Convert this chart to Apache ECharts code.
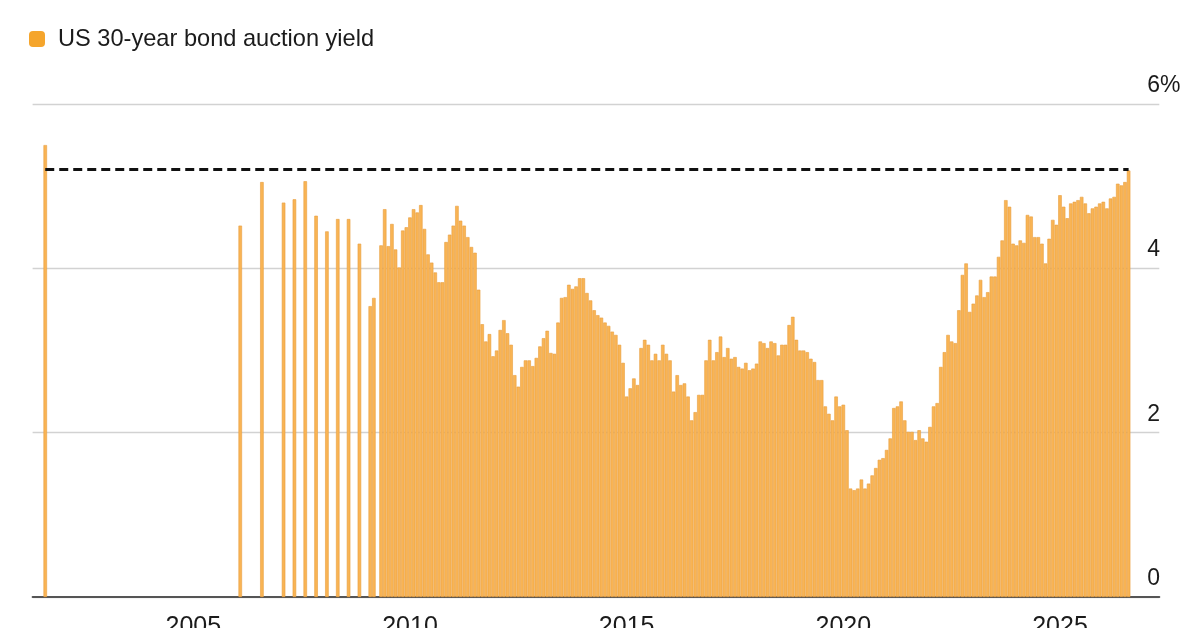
<!DOCTYPE html>
<html lang="en">
<head>
  <meta charset="UTF-8">
  <title>US 30-year bond auction yield</title>
  <script src="https://cdn.jsdelivr.net/npm/echarts@6.0.0/dist/echarts.min.js"></script>
  <style>
    html, body { margin: 0; padding: 0; background: #fff; }
    #chart { width: 1200px; height: 628px; }
  </style>
</head>
<body>
  <div id="chart"></div>

  <script>
    // early, irregular auctions (month -> yield, %)
    const earlyMonths = ['2001-08', '2006-02', '2006-08', '2007-02', '2007-05', '2007-08',
                         '2007-11', '2008-02', '2008-05', '2008-08', '2008-11']
    const earlyYields = [5.50, 4.52, 5.05, 4.80, 4.84, 5.06, 4.64, 4.45, 4.60, 4.60, 4.30]

    // monthly auctions from Feb 2009 (no auction in Apr 2009)
    const monthlyStart = '2009-02'
    const y2009 = [3.54, 3.64, null, 4.28, 4.72, 4.27, 4.54, 4.23, 4.01, 4.46, 4.50]
    const y2010 = [4.62, 4.72, 4.68, 4.77, 4.48, 4.17, 4.07, 3.95, 3.83, 3.83, 4.32, 4.41]
    const y2011 = [4.52, 4.76, 4.58, 4.52, 4.38, 4.26, 4.19, 3.74, 3.32, 3.11, 3.20, 2.93]
    const y2012 = [3.00, 3.25, 3.37, 3.21, 3.07, 2.70, 2.56, 2.80, 2.88, 2.88, 2.81, 2.91]
    const y2013 = [3.05, 3.15, 3.24, 2.97, 2.96, 3.34, 3.64, 3.65, 3.80, 3.75, 3.78, 3.88]
    const y2014 = [3.88, 3.70, 3.61, 3.49, 3.43, 3.40, 3.34, 3.30, 3.23, 3.19, 3.07, 2.85]
    const y2015 = [2.44, 2.54, 2.66, 2.58, 3.03, 3.13, 3.07, 2.88, 2.96, 2.88, 3.07, 2.96]
    const y2016 = [2.88, 2.50, 2.70, 2.58, 2.60, 2.44, 2.15, 2.25, 2.46, 2.46, 2.88, 3.13]
    const y2017 = [2.88, 2.98, 3.17, 2.92, 3.03, 2.90, 2.92, 2.80, 2.78, 2.85, 2.76, 2.78]
    const y2018 = [2.84, 3.11, 3.09, 3.03, 3.11, 3.09, 2.94, 3.07, 3.07, 3.31, 3.41, 3.13]
    const y2019 = [3.00, 3.00, 2.98, 2.90, 2.86, 2.64, 2.64, 2.32, 2.23, 2.15, 2.44, 2.32]
    const y2020 = [2.34, 2.03, 1.32, 1.30, 1.32, 1.43, 1.32, 1.38, 1.48, 1.57, 1.67, 1.69]
    const y2021 = [1.79, 1.93, 2.30, 2.32, 2.38, 2.15, 2.01, 2.01, 1.91, 2.03, 1.93, 1.89]
    const y2022 = [2.07, 2.32, 2.36, 2.80, 2.98, 3.19, 3.11, 3.09, 3.49, 3.92, 4.06, 3.47]
    const y2023 = [3.57, 3.67, 3.86, 3.65, 3.71, 3.90, 3.90, 4.14, 4.34, 4.83, 4.75, 4.30]
    const y2024 = [4.28, 4.34, 4.31, 4.65, 4.63, 4.38, 4.38, 4.30, 4.06, 4.36, 4.59, 4.53]
    const y2025 = [4.89, 4.75, 4.61, 4.79, 4.81, 4.83, 4.87, 4.79, 4.67, 4.73, 4.75, 4.79]
    const y2026 = [4.81, 4.73, 4.85, 4.87, 5.03, 5.01, 5.05, 5.19]

    // dashed reference level and where it runs
    const refLevel = 5.2
    const refFrom = '2001-08'
    const refTo = '2026-08'

    const axisStart = '2001-05'
    const axisEnd = '2027-04'
    const labelEvery = 5 // years

    const seriesName = 'US 30-year bond auction yield'

    // month keys along the axis
    function monthKey(y, m) {
      return y + '-' + String(m).padStart(2, '0')
    }
    const months = []
    let yy = +axisStart.slice(0, 4), mm = +axisStart.slice(5, 7)
    while (true) {
      const k = monthKey(yy, mm)
      months.push(k)
      if (k === axisEnd) break
      mm++
      if (mm > 12) { mm = 1; yy++ }
    }

    // month -> yield
    const yieldByMonth = {}
    earlyMonths.forEach((m, i) => { yieldByMonth[m] = earlyYields[i] })
    const monthly = [].concat(y2009, y2010, y2011, y2012, y2013, y2014, y2015, y2016, y2017,
                              y2018, y2019, y2020, y2021, y2022, y2023, y2024, y2025, y2026)
    const startIdx = months.indexOf(monthlyStart)
    monthly.forEach((v, i) => {
      if (v !== null) yieldByMonth[months[startIdx + i]] = v
    })
    const barData = months.map(m => (m in yieldByMonth ? yieldByMonth[m] : '-'))

    const isJan = (i, v) => v.slice(5) === '01'
    const isLabelYear = (i, v) => isJan(i, v) && (+v.slice(0, 4)) % labelEvery === 0

    const font = '"Liberation Sans", Arial, sans-serif'
    const chart = echarts.init(document.getElementById('chart'), null, { renderer: 'canvas' })

    chart.setOption({
      animation: false,
      backgroundColor: '#fff',
      legend: {
        left: 24,
        top: 22,
        icon: 'roundRect',
        itemWidth: 16,
        itemHeight: 16,
        selectedMode: false,
        data: [{ name: seriesName, itemStyle: { color: '#F5A52C', borderWidth: 0 } }],
        textStyle: { fontFamily: font, fontSize: 23.6, color: '#1b1b1b', padding: [0, 0, 0, 8] }
      },
      grid: {
        left: 32.6,
        right: 40.7,
        top: 104,
        bottom: 31,
        outerBoundsMode: 'none'
      },
      xAxis: [{
        type: 'category',
        data: months,
        axisLine: { lineStyle: { color: '#555', width: 2 } },
        axisTick: { alignWithLabel: true, interval: isJan, length: 5, lineStyle: { color: '#555', width: 1.5 } },
        axisLabel: {
          interval: isLabelYear,
          formatter: v => v.slice(0, 4),
          fontFamily: font,
          fontSize: 25,
          color: '#1b1b1b',
          margin: 18,
          hideOverlap: false
        },
        splitLine: { show: false }
      }, {
        // longer ticks at labelled years
        type: 'category',
        data: months,
        position: 'bottom',
        axisLine: { show: false },
        axisTick: { alignWithLabel: true, interval: isLabelYear, length: 11, lineStyle: { color: '#555', width: 1.5 } },
        axisLabel: { show: false }
      }],
      yAxis: {
        type: 'value',
        position: 'right',
        min: 0,
        max: 6,
        interval: 2,
        axisLine: { show: false },
        axisTick: { show: false },
        splitLine: { lineStyle: { color: '#d2d2d2', width: 1.3 } },
        axisLabel: {
          margin: -12,
          fontFamily: font,
          fontSize: 23,
          color: '#1b1b1b',
          verticalAlign: 'bottom',
          padding: [0, 0, 7, 0],
          formatter: v => (v === 6 ? '6%' : String(v))
        }
      },
      series: [{
        name: seriesName,
        type: 'bar',
        data: barData,
        barWidth: 3.5,
        itemStyle: { color: '#F9B454', borderColor: '#E89D3E', borderWidth: 0.6 },
        markLine: {
          silent: true,
          symbol: 'none',
          label: { show: false },
          lineStyle: { color: '#111', type: [9, 5], width: 3 },
          data: [[{ coord: [refFrom, refLevel] }, { coord: [refTo, refLevel] }]]
        }
      }]
    })
  </script>
</body>
</html>
